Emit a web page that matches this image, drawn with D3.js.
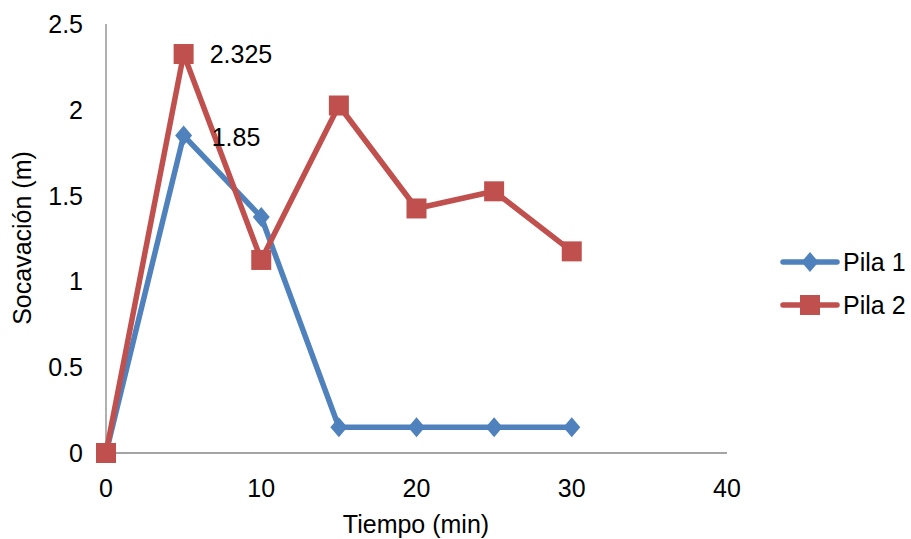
<!DOCTYPE html>
<html><head><meta charset="utf-8">
<script src="https://cdn.jsdelivr.net/npm/d3@7"></script>
<style>body{margin:0;background:#fff;}svg{display:block;font-family:"Liberation Sans",Arial,sans-serif;}</style>
</head><body><svg id="c" width="911" height="539"></svg>
<script>
const times = [0, 5, 10, 15, 20, 25, 30];
const pila1 = [0, 1.85, 1.375, 0.15, 0.15, 0.15, 0.15];
const pila2 = [0, 2.325, 1.125, 2.025, 1.425, 1.525, 1.175];
const seriesNames = ["Pila 1", "Pila 2"];
const xTicks = [0, 10, 20, 30, 40];
const yTicks = [0, 0.5, 1, 1.5, 2, 2.5];
const colors = ["#4F81BD", "#C0504D"];

const FS = 25;
const svg = d3.select("#c");
const x = d3.scaleLinear().domain([0, 40]).range([106, 727]);
const y = d3.scaleLinear().domain([0, 2.5]).range([453, 24]);

// axes lines
svg.append("line").attr("x1", x(0)).attr("x2", x(40)).attr("y1", y(0)).attr("y2", y(0)).attr("stroke", "#868686").attr("stroke-width", 1.3);
svg.append("line").attr("x1", x(0)).attr("x2", x(0)).attr("y1", y(0)).attr("y2", y(2.5)).attr("stroke", "#868686").attr("stroke-width", 1.3);

// tick labels
svg.selectAll(".xt").data(xTicks).enter().append("text")
  .attr("x", d => x(d)).attr("y", 497).attr("text-anchor", "middle").attr("font-size", FS).text(d => d);
svg.selectAll(".yt").data(yTicks).enter().append("text")
  .attr("x", 83).attr("y", d => y(d) + 9).attr("text-anchor", "end").attr("font-size", FS).text(d => d);

// axis titles
svg.append("text").attr("x", 416).attr("y", 533).attr("text-anchor", "middle").attr("font-size", FS).text("Tiempo (min)");
svg.append("text").attr("transform", "translate(31,238) rotate(-90)").attr("text-anchor", "middle").attr("font-size", FS).text("Socavación (m)");

const line = d3.line().x(d => x(d[0])).y(d => y(d[1]));
const data = [pila1, pila2].map(s => times.map((t, i) => [t, s[i]]));

function marker(g, k, cx, cy) {
  if (k === 0) {
    g.append("path").attr("d", `M${cx},${cy-10}L${cx+8.5},${cy}L${cx},${cy+10}L${cx-8.5},${cy}Z`).attr("fill", colors[0]);
  } else {
    g.append("rect").attr("x", cx-10).attr("y", cy-10).attr("width", 20).attr("height", 20).attr("fill", colors[1]);
  }
}

data.forEach((pts, k) => {
  svg.append("path").attr("d", line(pts)).attr("fill", "none").attr("stroke", colors[k]).attr("stroke-width", 5.5).attr("stroke-linejoin", "round");
});
data.forEach((pts, k) => {
  const g = svg.append("g");
  pts.forEach(p => marker(g, k, x(p[0]), y(p[1])));
});

// data labels
svg.append("text").attr("x", x(5) + 26).attr("y", y(2.325) + 9).attr("font-size", FS).text(pila2[1]);
svg.append("text").attr("x", x(5) + 28).attr("y", y(1.85) + 10).attr("font-size", FS).text(pila1[1]);

// legend
seriesNames.forEach((n, k) => {
  const ly = 262 + k * 43;
  svg.append("line").attr("x1", 783).attr("x2", 837).attr("y1", ly).attr("y2", ly).attr("stroke", colors[k]).attr("stroke-width", 5.5).attr("stroke-linecap", "round");
  marker(svg, k, 810, ly);
  svg.append("text").attr("x", 843).attr("y", ly + 9).attr("font-size", FS).text(n);
});
</script></body></html>
